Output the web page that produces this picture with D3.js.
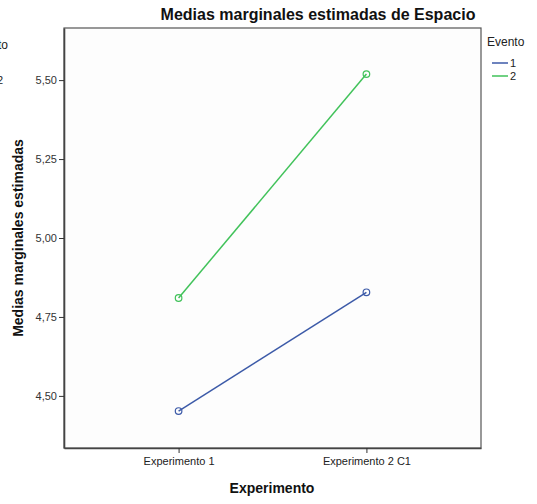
<html lang="en">
<head>
<style>
  body { margin: 0; background: #fff; }
  text { font-family: "Liberation Sans", Arial, sans-serif; }
</style>
</head>
<body>
<script type='text/javascript' src='https://d3js.org/d3.v7.min.js'></script>
<script>
    var categories = ["Experimento 1", "Experimento 2 C1"];
    var evento1 = [4.452, 4.828];
    var evento2 = [4.810, 5.519];
    var seriesNames = ["1", "2"];
    var yTicks = [4.50, 4.75, 5.00, 5.25, 5.50];

    var width = 537, height = 504;
    var mLeft = 64, mRight = 481, mTop = 28, mBottom = 448;

    var svg = d3.select("body").append("svg")
        .attr("width", width)
        .attr("height", height);

    var x = d3.scalePoint().domain(categories).range([mLeft, mRight]).padding(0.61);
    var y = d3.scaleLinear().domain([4.335, 5.665]).range([mBottom, mTop]);
    var color = d3.scaleOrdinal().domain(seriesNames).range(["#3c5aa8", "#41c25a"]);

    // plot background
    svg.append("rect")
        .attr("x", mLeft).attr("y", mTop)
        .attr("width", mRight - mLeft).attr("height", mBottom - mTop)
        .attr("fill", "#fdfdfd")
        .attr("stroke", "#555").attr("stroke-width", 1.2);

    var fmt = function (d) { return d3.format(".2f")(d).replace(".", ","); };

    var yAxis = svg.append("g")
        .attr("transform", "translate(" + mLeft + ",0)")
        .call(d3.axisLeft(y).tickValues(yTicks).tickFormat(fmt).tickSize(5).tickSizeOuter(0).tickPadding(2));
    yAxis.select(".domain").attr("stroke", "#444").attr("stroke-width", 1.6);
    yAxis.selectAll("line").attr("stroke", "#333");
    yAxis.selectAll("text").attr("fill", "#333").style("font-size", "11px")
        .style("font-family", "Liberation Sans, Arial, sans-serif");

    var xAxis = svg.append("g")
        .attr("transform", "translate(0," + mBottom + ")")
        .call(d3.axisBottom(x).tickSize(5).tickSizeOuter(0).tickPadding(4));
    xAxis.select(".domain").attr("stroke", "#444").attr("stroke-width", 1.6);
    xAxis.selectAll("line").attr("stroke", "#333");
    xAxis.selectAll("text").attr("fill", "#222").style("font-size", "11px")
        .style("font-family", "Liberation Sans, Arial, sans-serif");

    var series = [
        { name: seriesNames[0], values: evento1 },
        { name: seriesNames[1], values: evento2 }
    ];

    var line = d3.line()
        .x(function (d, i) { return x(categories[i]); })
        .y(function (d) { return y(d); });

    series.forEach(function (s) {
        svg.append("path")
            .attr("d", line(s.values))
            .attr("fill", "none")
            .attr("stroke", color(s.name))
            .attr("stroke-width", 1.5);
        svg.selectAll(null).data(s.values).enter().append("circle")
            .attr("cx", function (d, i) { return x(categories[i]); })
            .attr("cy", function (d) { return y(d); })
            .attr("r", 3.3)
            .attr("fill", "none")
            .attr("stroke", color(s.name))
            .attr("stroke-width", 1.2);
    });

    // titles
    svg.append("text")
        .attr("x", 318).attr("y", 20)
        .attr("text-anchor", "middle")
        .style("font-size", "16px").style("font-weight", "bold")
        .attr("fill", "#111")
        .text("Medias marginales estimadas de Espacio");

    svg.append("text")
        .attr("transform", "translate(23,238) rotate(-90)")
        .attr("text-anchor", "middle")
        .style("font-size", "14px").style("font-weight", "bold")
        .attr("fill", "#111")
        .text("Medias marginales estimadas");

    svg.append("text")
        .attr("x", 272).attr("y", 493)
        .attr("text-anchor", "middle")
        .style("font-size", "14px").style("font-weight", "bold")
        .attr("fill", "#111")
        .text("Experimento");

    // legend
    var lg = svg.append("g").attr("transform", "translate(487,46)");
    lg.append("text").attr("x", 0).attr("y", 0)
        .style("font-size", "12px").attr("fill", "#222").text("Evento");
    seriesNames.forEach(function (n, i) {
        lg.append("line")
            .attr("x1", 5).attr("x2", 21)
            .attr("y1", 17 + i * 13).attr("y2", 17 + i * 13)
            .attr("stroke", color(n)).attr("stroke-width", 1.5);
        lg.append("text").attr("x", 23).attr("y", 21 + i * 13)
            .style("font-size", "11px").attr("fill", "#222").text(n);
    });

    // cut-off remnant of a second legend at the left edge
    svg.append("text").attr("x", 8).attr("y", 49).attr("text-anchor", "end")
        .style("font-size", "12px").attr("fill", "#222").text("Evento");
    svg.append("text").attr("x", -3).attr("y", 84)
        .style("font-size", "11px").attr("fill", "#222").text(seriesNames[1]);
</script>
</body>
</html>
